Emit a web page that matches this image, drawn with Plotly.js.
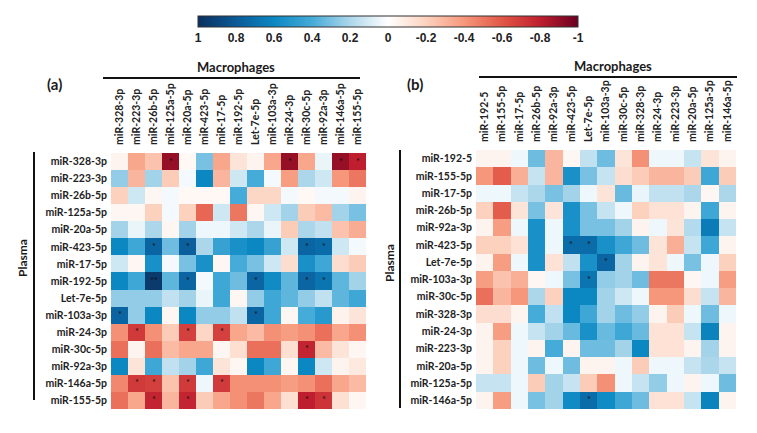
<!DOCTYPE html>
<html>
<head>
<meta charset="utf-8">
<script src="https://cdn.plot.ly/plotly-3.0.1.min.js"></script>
<style>
  html, body { margin: 0; padding: 0; background: #fff; }
  #plot { width: 757px; height: 433px; }
</style>
</head>
<body>
<div id="plot"></div>
<script>
// (a) 行、列标签
const rowsA = ['miR-328-3p', 'miR-223-3p', 'miR-26b-5p', 'miR-125a-5p', 'miR-20a-5p', 'miR-423-5p', 'miR-17-5p',
    'miR-192-5p', 'Let-7e-5p', 'miR-103a-3p', 'miR-24-3p', 'miR-30c-5p', 'miR-92a-3p', 'miR-146a-5p', 'miR-155-5p'];
const colsA = ['miR-328-3p', 'miR-223-3p', 'miR-26b-5p', 'miR-125a-5p', 'miR-20a-5p', 'miR-423-5p', 'miR-17-5p',
    'miR-192-5p', 'Let-7e-5p', 'miR-103a-3p', 'miR-24-3p', 'miR-30c-5p', 'miR-92a-3p', 'miR-146a-5p', 'miR-155-5p'];

// (a) 相关系数 (plasma rows x macrophage columns)
const corrA = [
    [-0.05, -0.35, -0.25, -0.90, -0.03, 0.30, -0.35, -0.12, -0.05, -0.35, -0.90, -0.35, 0.05, -0.90, -0.80],
    [0.25, -0.30, 0.22, -0.22, 0.03, 0.60, -0.30, 0.12, 0.40, 0.03, -0.38, 0.20, 0.12, -0.40, -0.50],
    [-0.20, 0.12, -0.04, 0.03, -0.03, -0.03, -0.03, 0.40, -0.18, -0.18, 0.03, -0.03, 0.03, 0.03, -0.05],
    [-0.04, -0.04, -0.20, 0.03, -0.20, -0.55, 0.12, -0.50, -0.04, 0.12, 0.22, -0.22, -0.28, 0.22, 0.30],
    [0.22, 0.05, 0.20, -0.04, 0.22, 0.04, 0.04, 0.12, 0.20, 0.05, -0.22, 0.20, 0.15, -0.25, -0.33],
    [0.60, 0.42, 0.75, 0.32, 0.78, 0.20, 0.45, 0.55, 0.60, 0.45, 0.12, 0.75, 0.72, 0.12, 0.03],
    [0.12, -0.04, 0.55, 0.03, 0.30, 0.55, -0.04, 0.40, 0.30, 0.12, -0.15, 0.55, 0.42, -0.15, -0.22],
    [0.60, 0.42, 0.95, 0.35, 0.75, 0.03, 0.42, 0.32, 0.75, 0.58, 0.35, 0.75, 0.68, 0.35, 0.22],
    [0.25, 0.25, 0.25, 0.15, 0.22, 0.05, 0.42, -0.04, 0.25, 0.42, 0.35, 0.25, 0.15, 0.35, 0.42],
    [0.75, 0.25, 0.60, -0.04, 0.60, 0.25, 0.25, 0.15, 0.75, 0.42, -0.04, 0.40, 0.50, -0.06, -0.12],
    [-0.42, -0.70, -0.42, -0.22, -0.68, -0.18, -0.68, -0.35, -0.28, -0.42, -0.38, -0.42, -0.52, -0.35, -0.42],
    [-0.52, -0.05, -0.52, -0.28, -0.35, -0.35, -0.04, -0.14, -0.52, -0.52, -0.14, -0.78, -0.28, -0.12, -0.04],
    [0.60, -0.12, 0.42, 0.15, 0.22, 0.42, -0.12, -0.04, 0.60, 0.42, -0.04, 0.60, 0.12, -0.05, -0.10],
    [-0.45, -0.70, -0.68, -0.25, -0.70, 0.04, -0.70, -0.42, -0.42, -0.42, -0.38, -0.42, -0.52, -0.35, -0.28],
    [-0.52, -0.35, -0.78, -0.30, -0.78, -0.22, -0.35, -0.42, -0.50, -0.35, -0.14, -0.80, -0.72, -0.14, -0.04]
];

// (a) 显著性标记 [行, 列, 符号]
const starsA = [
    [0, 3, '*'], [0, 10, '*'], [0, 13, '*'], [0, 14, '*'],
    [5, 2, '*'], [5, 4, '*'], [5, 11, '*'], [5, 12, '*'],
    [7, 2, '**'], [7, 4, '*'], [7, 8, '*'], [7, 11, '*'], [7, 12, '*'],
    [9, 0, '*'], [9, 8, '*'],
    [10, 1, '*'], [10, 4, '*'], [10, 6, '*'],
    [11, 11, '*'],
    [13, 1, '*'], [13, 2, '*'], [13, 4, '*'], [13, 6, '*'],
    [14, 2, '*'], [14, 4, '*'], [14, 11, '*'], [14, 12, '*']
];

// (b) 行、列标签
const rowsB = ['miR-192-5', 'miR-155-5p', 'miR-17-5p', 'miR-26b-5p', 'miR-92a-3p', 'miR-423-5p', 'Let-7e-5p',
    'miR-103a-3p', 'miR-30c-5p', 'miR-328-3p', 'miR-24-3p', 'miR-223-3p', 'miR-20a-5p', 'miR-125a-5p', 'miR-146a-5p'];
const colsB = ['miR-192-5', 'miR-155-5p', 'miR-17-5p', 'miR-26b-5p', 'miR-92a-3p', 'miR-423-5p', 'Let-7e-5p',
    'miR-103a-3p', 'miR-30c-5p', 'miR-328-3p', 'miR-24-3p', 'miR-223-3p', 'miR-20a-5p', 'miR-125a-5p', 'miR-146a-5p'];

// (b) 相关系数
const corrB = [
    [-0.05, -0.05, 0.04, 0.32, -0.30, -0.04, 0.15, 0.32, -0.12, -0.42, 0.04, 0.04, 0.14, -0.12, -0.05],
    [-0.40, -0.58, -0.32, 0.14, -0.30, 0.55, 0.30, 0.14, -0.15, -0.22, -0.30, -0.30, -0.22, 0.42, -0.22],
    [0.04, 0.04, 0.14, 0.20, 0.30, 0.22, 0.04, -0.12, 0.33, 0.05, 0.15, 0.15, 0.20, -0.04, 0.20],
    [-0.20, -0.58, -0.12, 0.30, -0.12, 0.55, 0.30, 0.14, 0.04, -0.20, -0.13, -0.13, -0.05, 0.42, -0.05],
    [-0.05, -0.38, 0.04, 0.55, 0.04, 0.55, 0.30, 0.30, 0.22, -0.05, 0.04, -0.12, 0.18, 0.65, 0.14],
    [-0.20, -0.20, -0.13, 0.55, 0.04, 0.72, 0.72, 0.55, 0.42, 0.32, -0.12, -0.32, 0.14, 0.42, -0.05],
    [-0.05, -0.38, 0.04, 0.55, -0.13, 0.15, 0.55, 0.75, 0.22, -0.05, -0.12, 0.04, 0.30, 0.04, -0.20],
    [-0.38, -0.25, -0.32, -0.04, 0.04, 0.30, 0.68, 0.25, 0.22, 0.32, -0.50, -0.50, -0.04, 0.04, -0.38],
    [-0.52, -0.30, -0.40, 0.20, -0.20, 0.60, 0.60, 0.22, 0.12, 0.04, -0.40, -0.40, -0.15, 0.14, -0.30],
    [-0.15, -0.15, -0.05, 0.40, 0.15, 0.60, 0.42, 0.22, 0.32, 0.25, -0.05, -0.22, 0.04, 0.32, 0.04],
    [-0.05, -0.38, 0.04, 0.14, 0.22, 0.33, 0.55, 0.33, 0.42, 0.33, -0.13, -0.13, 0.14, 0.62, -0.05],
    [-0.05, -0.20, 0.04, -0.05, 0.40, -0.05, 0.32, 0.32, 0.22, 0.60, -0.13, -0.13, -0.05, 0.22, -0.05],
    [-0.05, -0.20, 0.04, 0.32, 0.04, 0.32, -0.05, -0.05, 0.04, -0.22, 0.04, 0.04, 0.14, 0.20, 0.14],
    [0.14, 0.14, 0.04, -0.22, 0.22, 0.14, -0.22, -0.42, 0.04, 0.14, 0.25, 0.04, -0.05, 0.04, 0.32],
    [-0.05, -0.38, 0.04, 0.30, 0.22, 0.58, 0.72, 0.58, 0.42, 0.32, -0.13, -0.13, 0.14, 0.62, -0.05]
];

const starsB = [[5, 5, '*'], [5, 6, '*'], [6, 7, '*'], [7, 6, '*'], [14, 6, '*']];

// 色标刻度
const cbTicks = [1, 0.8, 0.6, 0.4, 0.2, 0, -0.2, -0.4, -0.6, -0.8, -1];

const W = 757, H = 433;
const px = x => x / W;          // 像素 -> paper
const py = y => 1 - y / H;

// 星号矩阵
function starText(stars, n, m) {
    const t = Array.from({ length: n }, () => Array(m).fill(''));
    stars.forEach(([r, c, s]) => { t[r][c] = s; });
    return t;
}

// 色条从左到右是 1 -> -1，Plotly 色条不能反向，所以画 -r 再改刻度文字
const neg = m => m.map(r => r.map(v => -v));

const FONT = 'Lato, "Open Sans", sans-serif';
const labFont = { family: FONT, size: 10.5, color: '#222', weight: 'bold' };

// 纸面文字注释
function note(text, x, y, size, angle) {
    return {
        text: text, xref: 'paper', yref: 'paper', x: px(x), y: py(y),
        xanchor: 'center', yanchor: 'middle', showarrow: false, textangle: angle || 0,
        font: { family: FONT, size: size, weight: 'bold', color: '#1a1a1a' }
    };
}

function hline(x0, x1, y) {
    return { type: 'line', xref: 'paper', yref: 'paper', x0: px(x0), x1: px(x1), y0: py(y), y1: py(y),
        line: { color: '#111', width: 2 } };
}
function vline(x, y0, y1) {
    return { type: 'line', xref: 'paper', yref: 'paper', x0: px(x), x1: px(x), y0: py(y0), y1: py(y1),
        line: { color: '#111', width: 2 } };
}

function initPlot() {
    const traceA = {
        type: 'heatmap',
        x: colsA, y: rowsA,
        z: neg(corrA),
        customdata: corrA,
        text: starText(starsA, rowsA.length, colsA.length),
        texttemplate: '%{text}',
        textfont: { size: 9, color: '#111' },
        hovertemplate: '%{y} / %{x}: %{customdata:.2f}<extra></extra>',
        coloraxis: 'coloraxis',
        xaxis: 'x', yaxis: 'y'
    };
    const traceB = {
        type: 'heatmap',
        x: colsB, y: rowsB,
        z: neg(corrB),
        customdata: corrB,
        text: starText(starsB, rowsB.length, colsB.length),
        texttemplate: '%{text}',
        textfont: { size: 9, color: '#111' },
        hovertemplate: '%{y} / %{x}: %{customdata:.2f}<extra></extra>',
        coloraxis: 'coloraxis',
        xaxis: 'x2', yaxis: 'y2'
    };

    const xBase = {
        side: 'top', tickangle: -90, ticks: '', showgrid: false, zeroline: false,
        showline: false, tickfont: labFont, ticklabelstandoff: 7
    };
    const yBase = {
        autorange: 'reversed', ticks: '', showgrid: false, zeroline: false,
        showline: false, tickfont: labFont, ticklabelstandoff: 3
    };

    const layout = {
        width: W, height: H,
        margin: { l: 0, r: 0, t: 0, b: 0 },
        paper_bgcolor: '#fff', plot_bgcolor: '#fff',
        showlegend: false,
        font: { family: FONT, color: '#222' },
        xaxis: Object.assign({}, xBase, { domain: [px(111), px(366)], anchor: 'y' }),
        yaxis: Object.assign({}, yBase, { domain: [py(409), py(153)], anchor: 'x' }),
        xaxis2: Object.assign({}, xBase, { domain: [px(476), px(736)], anchor: 'y2' }),
        yaxis2: Object.assign({}, yBase, { domain: [py(409), py(150)], anchor: 'x2' }),
        coloraxis: {
            cmin: -1, cmax: 1,
            colorscale: [
                [0.0, '#0b2f5e'],
                [0.1, '#0a5a98'],
                [0.2, '#0b87c1'],
                [0.3, '#45abd8'],
                [0.4, '#acd7eb'],
                [0.5, '#ffffff'],
                [0.6, '#fcd2bf'],
                [0.7, '#f6977b'],
                [0.8, '#e25647'],
                [0.9, '#bf1e2e'],
                [1.0, '#6a0020']
            ],
            colorbar: {
                orientation: 'h',
                x: px(388), xanchor: 'center',
                y: py(16), yanchor: 'top',
                len: 380, lenmode: 'pixels',
                thickness: 11, thicknessmode: 'pixels',
                xpad: 0, ypad: 0,
                outlinewidth: 1, outlinecolor: '#333',
                ticks: '',
                tickvals: cbTicks.map(v => -v),
                ticktext: cbTicks.map(String),
                tickfont: { family: '"Liberation Sans", Arial, sans-serif', size: 12, color: '#222', weight: 'bold' }
            }
        },
        shapes: [
            hline(103, 360, 78),
            hline(479, 737, 77),
            vline(34, 152, 400),
            vline(400, 150, 408)
        ],
        annotations: [
            note('Macrophages', 236, 67, 13),
            note('Macrophages', 613, 66, 13),
            note('Plasma', 22, 258, 12, -90),
            note('Plasma', 389, 263, 12, -90),
            note('(a)', 54, 84, 15),
            note('(b)', 415, 84, 15)
        ]
    };

    Plotly.newPlot('plot', [traceA, traceB], layout, { displayModeBar: false, staticPlot: true });
}

document.addEventListener('DOMContentLoaded', initPlot);
</script>
</body>
</html>
